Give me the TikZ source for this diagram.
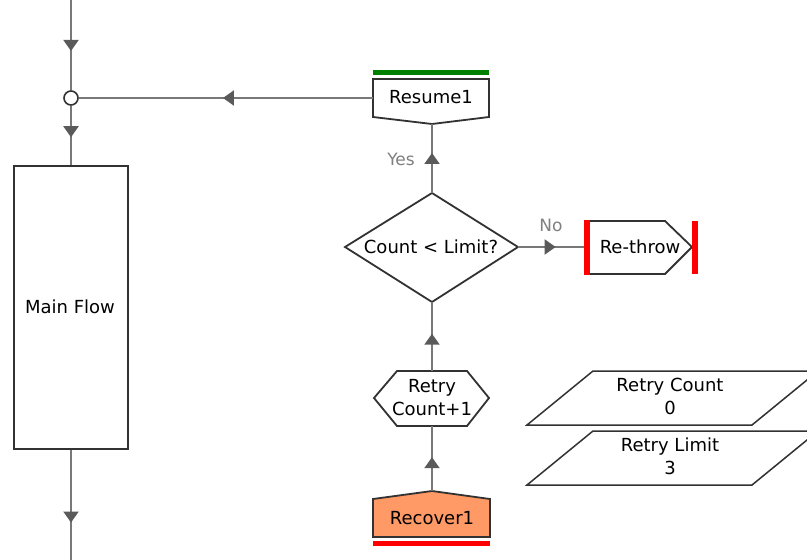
\documentclass[tikz,border=0pt]{standalone}
\usepackage{fontspec}
\setmainfont{DejaVu Sans}
\usetikzlibrary{arrows.meta,decorations.markings}

\definecolor{linegray}{RGB}{120,120,120}
\definecolor{tipgray}{RGB}{90,90,90}
\definecolor{edgegray}{RGB}{50,50,50}
\definecolor{labelgray}{RGB}{128,128,128}
\definecolor{startgreen}{RGB}{0,128,0}
\definecolor{stopred}{RGB}{255,0,0}
\definecolor{salmon}{RGB}{255,153,102}

\begin{document}
\begin{tikzpicture}[x=1pt,y=-1pt,
  flow/.style={draw=linegray,line width=2pt},
  outline/.style={draw=edgegray,line width=1.8pt,fill=white,line join=miter},
  lbl/.style={font=\fontsize{18}{23}\selectfont,text=black,inner sep=0pt,align=center},
  cond/.style={font=\fontsize{17}{20}\selectfont,text=labelgray,inner sep=0pt},
  midarrow/.style={postaction={decorate},decoration={markings,
    mark=at position #1 with {\arrow[tipgray]{Triangle[width=15pt,length=11pt]}}}},
]
\useasboundingbox[fill=white] (0,0) rectangle (807,560);

% ---------- main flow column ----------
\coordinate (top) at (71,0);
\coordinate (bottom) at (71,560);
\node[circle,draw=edgegray,line width=1.6pt,minimum size=14pt,inner sep=0pt] (join) at (71,98) {};
\node[draw=edgegray,line width=1.8pt,fill=white,minimum width=114pt,minimum height=283pt,inner sep=0pt]
  (main) at (71,307.5) {};
\node[lbl] (mainlbl) at (70,307) {Main Flow};

\draw[flow,midarrow=0.565] (top) -- (join.north);
\draw[flow,midarrow=0.53] (join.south) -- (main.north);
\draw[flow,midarrow=0.66] (main.south) -- (bottom);

% ---------- Resume1 ----------
\fill[startgreen] (373,70) rectangle (489,75);
\draw[outline] (373,79) -- (489,79) -- (489,117) -- (432,124) -- (373,117) -- cycle;
\node[lbl] (resume) at (431,97) {Resume1};
\coordinate (res-w) at (373,98);
\coordinate (res-s) at (432,124);

% ---------- decision ----------
\draw[outline] (432,193) -- (518,247) -- (432,302) -- (345,247) -- cycle;
\node[lbl] (decide) at (431,247) {Count < Limit?};
\coordinate (dec-n) at (432,193);
\coordinate (dec-e) at (518,247);
\coordinate (dec-s) at (432,302);

% ---------- Re-throw ----------
\draw[outline] (585,221) -- (665,221) -- (692,247) -- (665,274) -- (585,274) -- cycle;
\fill[stopred] (584,220) rectangle (590,275);
\fill[stopred] (692,221) rectangle (698,274);
\node[lbl] (rethrow) at (640,247) {Re-throw};
\coordinate (thr-w) at (584,247);

% ---------- Retry Count+1 ----------
\draw[outline] (374,398) -- (397,371) -- (467,371) -- (489,398) -- (467,426) -- (397,426) -- cycle;
\node[lbl] (incr) at (432,398) {Retry\\Count+1};
\coordinate (inc-n) at (432,371);
\coordinate (inc-s) at (432,426);

% ---------- Recover1 ----------
\draw[outline,fill=salmon] (373,499) -- (432,491) -- (490,499) -- (490,537) -- (373,537) -- cycle;
\fill[stopred] (373,541) rectangle (490,546);
\node[lbl] (recover) at (432,518) {Recover1};
\coordinate (rec-n) at (432,491);

% ---------- variables ----------
\draw[draw=edgegray,line width=1.5pt] (593,371) -- (818,371) -- (752,425) -- (527,425) -- cycle;
\node[lbl] (cntvar) at (670,396) {Retry Count\\0};
\draw[draw=edgegray,line width=1.5pt] (593,431) -- (818,431) -- (752,485) -- (527,485) -- cycle;
\node[lbl] (limvar) at (670,456) {Retry Limit\\3};

% ---------- connectors ----------
\draw[flow,midarrow=0.51] (res-w) -- (join.east);
\draw[flow,midarrow=0.58] (dec-n) -- (res-s);
\draw[flow,midarrow=0.57] (dec-e) -- (thr-w);
\draw[flow,midarrow=0.54] (inc-n) -- (dec-s);
\draw[flow,midarrow=0.52] (rec-n) -- (inc-s);

\node[cond] (yes) at (401,159) {Yes};
\node[cond] (no) at (551,225) {No};
\end{tikzpicture}
\end{document}
